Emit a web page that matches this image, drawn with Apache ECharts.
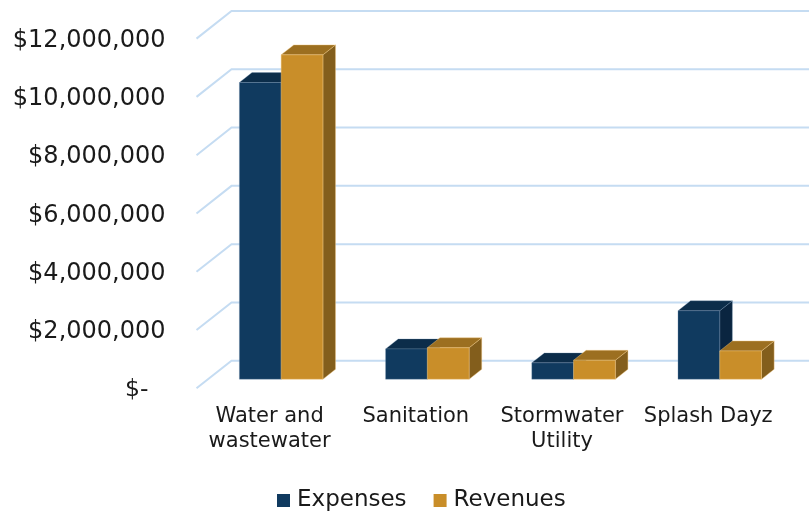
<!DOCTYPE html>
<html>
<head>
<meta charset="utf-8">
<script src="https://cdn.jsdelivr.net/npm/echarts@6/dist/echarts.min.js"></script>
<style>
html,body{margin:0;padding:0;background:#fff;}
#chart{width:809px;height:512px;}
</style>
</head>
<body>
<div id="chart"></div>
<script>
// ---- data ----
const categories = ['Water and\nwastewater', 'Sanitation', 'Stormwater\nUtility', 'Splash Dayz'];
const seriesNames = ['Expenses', 'Revenues'];
const expenses = [10180000, 1040000, 560000, 2350000];
const revenues = [11130000, 1080000, 650000, 970000];
const yTicks = [0, 2000000, 4000000, 6000000, 8000000, 10000000, 12000000];

// ---- style / projection constants ----
const DEPTH = [35, -27.6];        // full floor depth (oblique projection)
const BAR_FRONT = 0.33;           // depth fraction of bar front face
const BAR_DEPTH = 0.36;           // depth fraction occupied by bar
const FONT = '"DejaVu Sans", Verdana, sans-serif';
const GRID_COLOR = '#C5DCF2';
const TEXT = '#1a1a1a';
const colors = {
  Expenses: { front: '#103A5F', top: '#0C2D4A', side: '#0A2540', edge: 'rgba(120,150,180,0.5)' },
  Revenues: { front: '#C98E29', top: '#9C6F20', side: '#835E1C', edge: 'rgba(240,200,130,0.7)' }
};

function makeBarRenderer(name, slot) {
  const c = colors[name];
  return function (params, api) {
    const idx = api.value(0);
    const val = api.value(1);
    const base = api.coord([idx, 0]);
    const top = api.coord([idx, val]);
    const band = api.size([1, 0])[0];
    const w = band / 3.5;
    const ox = DEPTH[0] * BAR_FRONT, oy = DEPTH[1] * BAR_FRONT;
    const bdx = DEPTH[0] * BAR_DEPTH, bdy = DEPTH[1] * BAR_DEPTH;
    const x0 = base[0] + (slot === 0 ? -w : 0) + ox;
    const yb = base[1] + oy;
    const yt = top[1] + oy;
    const x1 = x0 + w;
    return {
      type: 'group',
      children: [
        { type: 'polygon', shape: { points: [[x1, yt], [x1 + bdx, yt + bdy], [x1 + bdx, yb + bdy], [x1, yb]] },
          style: { fill: c.side, stroke: c.edge, lineWidth: 0.6 } },
        { type: 'polygon', shape: { points: [[x0, yt], [x1, yt], [x1 + bdx, yt + bdy], [x0 + bdx, yt + bdy]] },
          style: { fill: c.top, stroke: c.edge, lineWidth: 0.6 } },
        { type: 'rect', shape: { x: x0, y: yt, width: w, height: yb - yt },
          style: { fill: c.front, stroke: c.edge, lineWidth: 0.6 } }
      ]
    };
  };
}

function gridRenderer(params, api) {
  const cs = params.coordSys;
  const y = api.coord([0, api.value(1)])[1];
  const x = cs.x;
  return {
    type: 'polyline',
    shape: { points: [[x, y], [x + DEPTH[0], y + DEPTH[1]], [cs.x + cs.width + DEPTH[0] + 60, y + DEPTH[1]]] },
    style: { stroke: GRID_COLOR, lineWidth: 2, fill: null }
  };
}

const chart = echarts.init(document.getElementById('chart'), null, { renderer: 'canvas' });
chart.setOption({
  animation: false,
  backgroundColor: '#ffffff',
  textStyle: { fontFamily: FONT },
  legend: {
    data: seriesNames,
    left: 272,
    top: 484,
    icon: 'rect',
    itemWidth: 13,
    itemHeight: 13,
    itemGap: 27,
    textStyle: { fontFamily: FONT, fontSize: 23, color: TEXT, padding: [0, 0, 0, 2] }
  },
  grid: { left: 196.5, right: 27.7, top: 38.6, bottom: 123.7, containLabel: false },
  xAxis: {
    type: 'category',
    data: categories,
    axisLine: { show: false },
    axisTick: { show: false },
    axisLabel: { interval: 0, fontFamily: FONT, fontSize: 21, lineHeight: 25, color: TEXT, margin: 16 }
  },
  yAxis: {
    type: 'value',
    min: 0,
    max: 12000000,
    interval: 2000000,
    axisLine: { show: false },
    axisTick: { show: false },
    splitLine: { show: false },
    axisLabel: {
      fontFamily: FONT, fontSize: 24, color: TEXT, margin: 31, padding: [4, 0, 0, 0],
      formatter: function (v) {
        return v === 0 ? '{z|$-}' : '$' + v.toLocaleString('en-US');
      },
      rich: { z: { fontFamily: FONT, fontSize: 23.5, color: TEXT, padding: [0, 17, 0, 0] } }
    }
  },
  series: [
    { type: 'custom', name: 'grid', silent: true, z: 1, renderItem: gridRenderer,
      data: yTicks.map(v => [0, v]) },
    { type: 'custom', name: 'Expenses', z: 2, itemStyle: { color: colors.Expenses.front },
      renderItem: makeBarRenderer('Expenses', 0), data: expenses.map((v, i) => [i, v]) },
    { type: 'custom', name: 'Revenues', z: 3, itemStyle: { color: colors.Revenues.front },
      renderItem: makeBarRenderer('Revenues', 1), data: revenues.map((v, i) => [i, v]) }
  ]
});
</script>
</body>
</html>
